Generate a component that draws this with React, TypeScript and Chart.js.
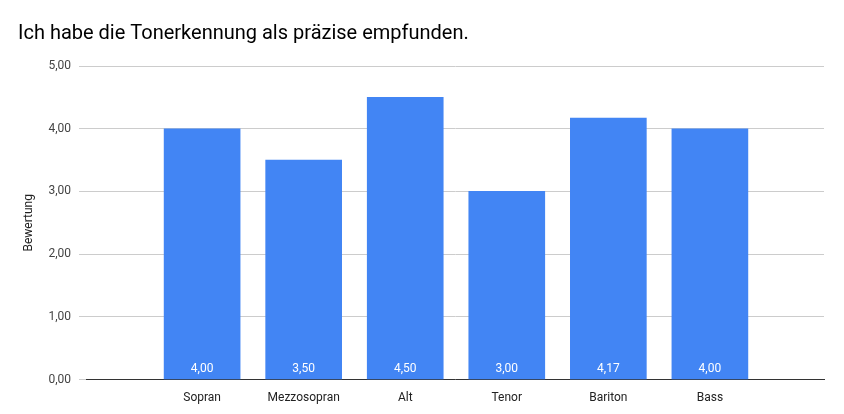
import { useEffect, useRef } from 'react'
import Chart from 'chart.js/auto'

const categories = ['Sopran', 'Mezzosopran', 'Alt', 'Tenor', 'Bariton', 'Bass']
const ratings = [4.0, 3.5, 4.5, 3.0, 4.17, 4.0]
const fmt = (v: number) => v.toFixed(2).replace('.', ',')

const barLabels = {
  id: 'barLabels',
  afterDatasetsDraw(chart: any) {
    const ctx = chart.ctx
    const meta = chart.getDatasetMeta(0)
    ctx.save()
    ctx.fillStyle = '#ffffff'
    ctx.font = '12px Roboto'
    ctx.textAlign = 'center'
    ctx.textBaseline = 'alphabetic'
    meta.data.forEach((bar: any, i: number) => {
      ctx.fillText(fmt(ratings[i]), bar.x, bar.base - 7)
    })
    ctx.restore()
  }
}

export default function App() {
  const canvasRef = useRef<HTMLCanvasElement>(null)

  useEffect(() => {
    document.body.style.margin = '0'
    if (!canvasRef.current) return
    const chart = new Chart(canvasRef.current, {
      type: 'bar',
      data: {
        datasets: [
          {
            data: ratings.map((v, i) => ({ x: i, y: v })),
            backgroundColor: '#4285f4',
            barThickness: 76
          }
        ]
      },
      options: {
        animation: false,
        responsive: false,
        layout: { padding: { left: 18, right: 20, top: 22, bottom: 6 } },
        plugins: {
          legend: { display: false },
          tooltip: { enabled: false },
          title: {
            display: true,
            text: 'Ich habe die Tonerkennung als präzise empfunden.',
            align: 'start',
            color: '#000',
            font: { family: 'Roboto', size: 20, weight: 'normal' },
            padding: { top: 0, bottom: 20 }
          }
        },
        scales: {
          x: {
            type: 'linear',
            min: -0.68,
            max: 5.67,
            grid: { display: false },
            border: { color: '#333' },
            ticks: {
              stepSize: 1,
              color: '#222',
              font: { family: 'Roboto', size: 12 },
              callback: (v: any) => (Number.isInteger(v) ? categories[v] ?? '' : '')
            }
          },
          y: {
            min: 0,
            max: 5,
            ticks: {
              stepSize: 1,
              padding: 8,
              color: '#444',
              font: { family: 'Roboto', size: 12 },
              callback: (v: any) => fmt(Number(v))
            },
            grid: { color: '#cccccc' },
            border: { display: false },
            title: {
              display: true,
              text: 'Bewertung',
              color: '#222',
              font: { family: 'Roboto', size: 12 }
            }
          }
        }
      },
      plugins: [barLabels]
    })
    return () => chart.destroy()
  }, [])

  return <canvas ref={canvasRef} width={844} height={414}></canvas>
}
